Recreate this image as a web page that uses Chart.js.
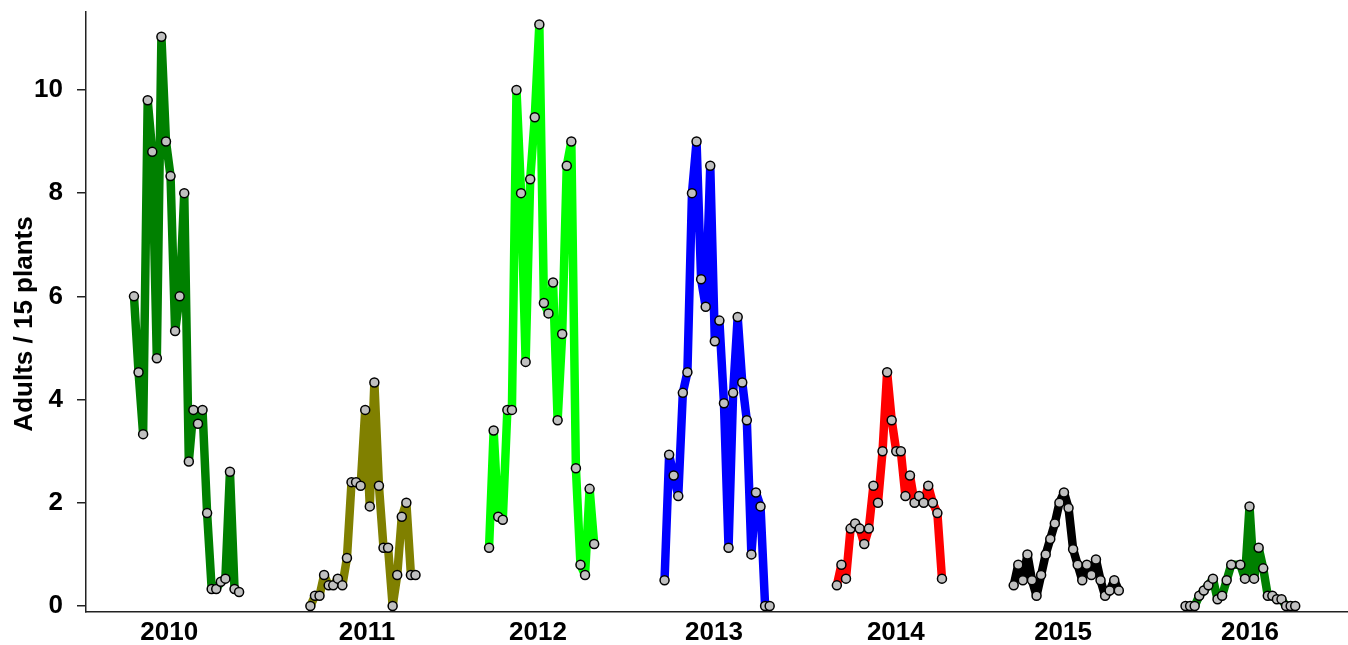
<!DOCTYPE html>
<html>
<head>
<meta charset="utf-8">
<script src="https://cdn.jsdelivr.net/npm/chart.js@4.4.1/dist/chart.umd.min.js"></script>
<style>
  html, body { margin: 0; padding: 0; background: #ffffff; }
  #wrap { width: 1348px; height: 645px; }
</style>
</head>
<body>
<div id="wrap"><canvas id="c" width="1348" height="645"></canvas></div>
<script>
// Adults counted per 15 plants, weekly samples, one season per year
const seasonNames = ['2010', '2011', '2012', '2013', '2014', '2015', '2016'];
const seasonColors = ['#008000', '#808000', '#00ff00', '#0000ff', '#ff0000', '#000000', '#008000'];
// week index of each season's first sample
const seasonStartWeek = [0, 38.6, 77.7, 116.1, 153.8, 192.5, 230.1];

const adults2010 = [6.0, 4.53, 3.33, 9.8, 8.8, 4.8, 11.03, 9.0, 8.33, 5.33, 6.0, 8.0, 2.8, 3.8, 3.53, 3.8, 1.8, 0.33, 0.33, 0.47, 0.53, 2.6, 0.33, 0.27];
const adults2011 = [0, 0.2, 0.2, 0.6, 0.4, 0.4, 0.53, 0.4, 0.93, 2.4, 2.4, 2.33, 3.8, 1.93, 4.33, 2.33, 1.13, 1.13, 0, 0.6, 1.73, 2.0, 0.6, 0.6];
const adults2012 = [1.13, 3.4, 1.73, 1.67, 3.8, 3.8, 10.0, 8.0, 4.73, 8.27, 9.47, 11.27, 5.87, 5.67, 6.27, 3.6, 5.27, 8.53, 9.0, 2.67, 0.8, 0.6, 2.27, 1.2];
const adults2013 = [0.5, 2.93, 2.53, 2.13, 4.13, 4.53, 8.0, 9.0, 6.33, 5.8, 8.53, 5.13, 5.53, 3.93, 1.13, 4.13, 5.6, 4.33, 3.6, 1.0, 2.2, 1.93, 0, 0];
const adults2014 = [0.4, 0.8, 0.53, 1.5, 1.6, 1.5, 1.2, 1.5, 2.33, 2.0, 3.0, 4.53, 3.6, 3.0, 3.0, 2.13, 2.53, 2.0, 2.13, 2.0, 2.33, 2.0, 1.8, 0.53];
const adults2015 = [0.4, 0.8, 0.5, 1.0, 0.5, 0.2, 0.6, 1.0, 1.3, 1.6, 2.0, 2.2, 1.9, 1.1, 0.8, 0.5, 0.8, 0.6, 0.9, 0.5, 0.2, 0.3, 0.5, 0.3];
// one week without a sample (null) in 2016
const adults2016 = [0, 0, 0, 0.2, 0.3, 0.4, 0.53, 0.13, 0.2, 0.5, 0.8, null, 0.8, 0.53, 1.93, 0.53, 1.13, 0.73, 0.2, 0.2, 0.13, 0.13, 0, 0, 0];

const seasonValues = [adults2010, adults2011, adults2012, adults2013, adults2014, adults2015, adults2016];

// axis ticks
const yTickValues = [0, 2, 4, 6, 8, 10];
const xTickLabels = ['2010', '2011', '2012', '2013', '2014', '2015', '2016'];
const xTickWeeks = [7.7, 51.0, 88.4, 126.9, 166.7, 203.3, 244.2];
const yTitleText = 'Adults / 15 plants';

const FONT = "'Liberation Sans', Arial, Helvetica, sans-serif";

const datasets = seasonValues.map((vals, s) => ({
  label: seasonNames[s],
  data: vals.map((v, i) => ({ x: seasonStartWeek[s] + i, y: v })),
  borderColor: seasonColors[s],
  backgroundColor: seasonColors[s],
  borderWidth: 8.5,
  borderJoinStyle: 'bevel',
  borderCapStyle: 'butt',
  tension: 0,
  spanGaps: true,
  fill: false,
  pointRadius: 4.5,
  pointHoverRadius: 4.5,
  pointBackgroundColor: '#c0c0c0',
  pointBorderColor: '#000000',
  pointBorderWidth: 1.5,
  clip: false
}));

const yTitlePlugin = {
  id: 'yTitle',
  afterDraw(chart) {
    const ctx = chart.ctx;
    ctx.save();
    ctx.translate(25, 324);
    ctx.rotate(-Math.PI / 2);
    ctx.font = 'bold 26px ' + FONT;
    ctx.fillStyle = '#000000';
    ctx.textAlign = 'center';
    ctx.textBaseline = 'middle';
    ctx.fillText(yTitleText, 0, 0);
    ctx.restore();
  }
};

new Chart(document.getElementById('c'), {
  type: 'line',
  data: { datasets },
  options: {
    responsive: false,
    animation: false,
    devicePixelRatio: 1,
    layout: { autoPadding: false, padding: { top: 12, right: 0, bottom: 0, left: 0 } },
    plugins: { legend: { display: false }, tooltip: { enabled: false } },
    scales: {
      x: {
        type: 'linear',
        min: -10.5,
        max: 265.65,
        afterFit(scale) {
          scale.height = 33;
          scale.paddingLeft = 0;
          scale.paddingRight = 0;
        },
        afterBuildTicks(scale) { scale.ticks = xTickWeeks.map(v => ({ value: v })); },
        grid: { display: true, drawOnChartArea: false, drawTicks: false },
        border: { display: true, color: '#222222', width: 1.5 },
        ticks: {
          autoSkip: false,
          maxRotation: 0,
          padding: 5,
          color: '#000000',
          font: { family: FONT, size: 26, weight: 'bold' },
          callback(value, index) { return xTickLabels[index]; }
        }
      },
      y: {
        type: 'linear',
        min: -0.116,
        max: 11.51,
        afterFit(scale) {
          scale.width = 86;
          scale.paddingTop = 0;
          scale.paddingBottom = 0;
        },
        afterBuildTicks(scale) { scale.ticks = yTickValues.map(v => ({ value: v })); },
        grid: { display: true, drawOnChartArea: false, drawTicks: true, tickLength: 9, color: '#222222', lineWidth: 1.5 },
        border: { display: true, color: '#222222', width: 1.5 },
        ticks: {
          padding: 14,
          color: '#000000',
          font: { family: FONT, size: 26, weight: 'bold' },
          callback(value) { return String(value); }
        }
      }
    }
  },
  plugins: [yTitlePlugin]
});
</script>
</body>
</html>
